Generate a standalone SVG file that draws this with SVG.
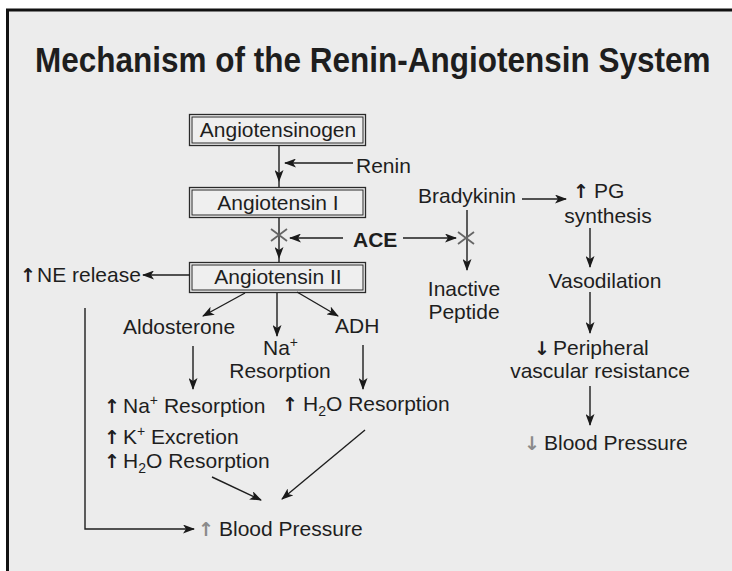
<svg xmlns="http://www.w3.org/2000/svg" width="732" height="571" viewBox="0 0 732 571">
<defs>
<marker id="ah" markerWidth="12" markerHeight="9" refX="11" refY="4.5" orient="auto" markerUnits="userSpaceOnUse">
<path d="M0,0 L12,4.5 L0,9 L3,4.5 z" fill="#1a1a1a"/>
</marker>
</defs>
<style>
.t{font-family:"Liberation Sans",Arial,sans-serif;font-size:21px;fill:#1e1e1e}
.b{font-weight:bold}
.m{text-anchor:middle}
.ar{font-family:"DejaVu Sans","Liberation Sans",sans-serif;font-size:19px;font-weight:bold;fill:#1e1e1e;text-anchor:middle}
.g{fill:#8a8a8a}
.box{fill:#efefef;stroke:#2a2a2a;stroke-width:1.3}
.in{fill:none;stroke:#2a2a2a;stroke-width:1}
.c{fill:none;stroke:#1e1e1e;stroke-width:1.4}
.x{stroke:#666;stroke-width:1.8}
.sup{font-size:14px}
</style>
<rect x="0" y="0" width="732" height="571" fill="#ffffff"/>
<rect x="7" y="10" width="725" height="561" fill="#ececec"/>
<path d="M7.5,571 V10 H732" fill="none" stroke="#111" stroke-width="3"/>

<g id="title"><text class="t b" x="0" y="0" transform="translate(35,72) scale(1,1.1)" style="font-size:31.5px">Mechanism of the Renin-Angiotensin System</text></g>

<g id="angiotensinogen"><rect class="box" x="189.5" y="114.5" width="176" height="31"/><rect class="in" x="192" y="117" width="171" height="26"/><text class="t m" x="278" y="137">Angiotensinogen</text></g>
<g id="angiotensin1"><rect class="box" x="189.5" y="187.5" width="176" height="30"/><rect class="in" x="192" y="190" width="171" height="25"/><text class="t m" x="278" y="210">Angiotensin I</text></g>
<g id="angiotensin2"><rect class="box" x="189.5" y="262.5" width="176" height="30"/><rect class="in" x="192" y="265" width="171" height="25"/><text class="t m" x="278" y="284">Angiotensin II</text></g>

<g id="renin"><text class="t" x="356" y="173">Renin</text></g>
<g id="ace"><text class="t b" x="353" y="247">ACE</text></g>
<g id="ne"><text class="ar" x="28" y="282">↑</text><text class="t" x="37" y="282">NE release</text></g>
<g id="aldosterone"><text class="t" x="123" y="334">Aldosterone</text></g>
<g id="na"><text class="t" x="263" y="355">Na<tspan class="sup" dy="-8">+</tspan></text><text class="t m" x="280" y="378">Resorption</text></g>
<g id="adh"><text class="t" x="335" y="333">ADH</text></g>
<g id="aldo-effects">
<text class="ar" x="112" y="413">↑</text><text class="t" x="123" y="413">Na<tspan class="sup" dy="-8">+</tspan><tspan dy="8"> Resorption</tspan></text>
<text class="ar" x="112" y="444">↑</text><text class="t" x="123" y="444">K<tspan class="sup" dy="-8">+</tspan><tspan dy="8"> Excretion</tspan></text>
<text class="ar" x="112" y="468">↑</text><text class="t" x="123" y="468">H<tspan class="sup" dy="5">2</tspan><tspan dy="-5">O Resorption</tspan></text>
</g>
<g id="adh-effect"><text class="ar" x="290" y="411">↑</text><text class="t" x="303" y="411">H<tspan class="sup" dy="5">2</tspan><tspan dy="-5">O Resorption</tspan></text></g>
<g id="bp-up"><text class="ar g" x="206" y="536">↑</text><text class="t" x="219" y="536">Blood Pressure</text></g>

<g id="bradykinin"><text class="t" x="418" y="203">Bradykinin</text></g>
<g id="inactive"><text class="t m" x="464" y="296">Inactive</text><text class="t m" x="464" y="319">Peptide</text></g>
<g id="pg"><text class="ar" x="581" y="198">↑</text><text class="t" x="594" y="198">PG</text><text class="t m" x="608" y="223">synthesis</text></g>
<g id="vasodilation"><text class="t m" x="605" y="288">Vasodilation</text></g>
<g id="pvr"><text class="ar" x="542" y="355">↓</text><text class="t" x="553" y="355">Peripheral</text><text class="t m" x="600" y="378">vascular resistance</text></g>
<g id="bp-down"><text class="ar g" x="532" y="450">↓</text><text class="t" x="544" y="450">Blood Pressure</text></g>

<g id="connectors">
<path class="c" d="M279,146 V181" marker-end="url(#ah)"/>
<path class="c" d="M279,181 V187"/>
<path class="c" d="M353,163 H285" marker-end="url(#ah)"/>
<path class="c" d="M279,218 V258" marker-end="url(#ah)"/>
<path class="c" d="M279,258 V262"/>
<path class="c" d="M343,238 H290" marker-end="url(#ah)"/>
<path class="c" d="M403,238 H456" marker-end="url(#ah)"/>
<path class="c" d="M467,210 V270" marker-end="url(#ah)"/>
<path class="c" d="M522,199 H566" marker-end="url(#ah)"/>
<path class="c" d="M590,228 V267" marker-end="url(#ah)"/>
<path class="c" d="M590,292 V333" marker-end="url(#ah)"/>
<path class="c" d="M590,386 V425" marker-end="url(#ah)"/>
<path class="c" d="M190,275 H143" marker-end="url(#ah)"/>
<path class="c" d="M245,293 L203,316" marker-end="url(#ah)"/>
<path class="c" d="M277,293 V336" marker-end="url(#ah)"/>
<path class="c" d="M297,292 L338,316" marker-end="url(#ah)"/>
<path class="c" d="M193,346 V389" marker-end="url(#ah)"/>
<path class="c" d="M363,345 V389" marker-end="url(#ah)"/>
<path class="c" d="M212,477 L261,500" marker-end="url(#ah)"/>
<path class="c" d="M365,430 L282,499" marker-end="url(#ah)"/>
<path class="c" d="M85,308 V529 H194" marker-end="url(#ah)"/>
<path class="x" d="M271,229 L287,241 M271,241 L287,229"/>
<path class="x" d="M458,232 L474,244 M458,244 L474,232"/>
</g>
</svg>
